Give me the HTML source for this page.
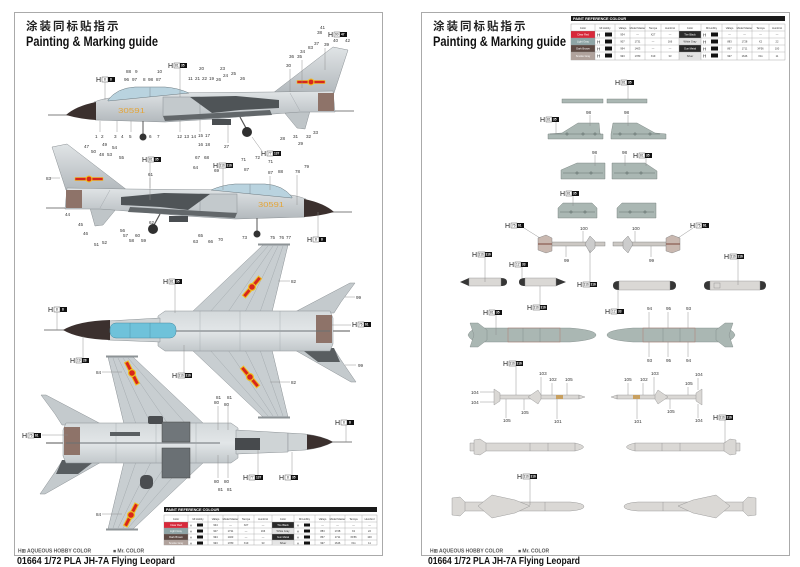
<!DOCTYPE html>
<html><head><meta charset="utf-8"><style>
html,body{margin:0;padding:0;background:#fff;}
svg{display:block}
text{font-family:"Liberation Sans","Noto Sans CJK SC",sans-serif;}
.n{font-size:4.6px;fill:#333}
.h{font-size:7px;fill:#222}
.hb{font-size:3.2px;fill:#fff;font-weight:bold}
.hw{font-size:3.2px;fill:#222}
.ld{stroke:#8a8a8a;stroke-width:0.45;fill:none}
.ac{stroke:#8a9094;stroke-width:0.5}
.py{fill:#aab7b3;stroke:#6e7875;stroke-width:0.4}
.ms{fill:#dad8d5;stroke:#8a8a8a;stroke-width:0.4}
.tt{font-size:2.6px;fill:#333}
.tw{font-size:2.6px;fill:#fff}
.gl{stroke:#999;stroke-width:0.35}
</style></head><body>
<svg width="800" height="567" viewBox="0 0 800 567">
<defs>
<linearGradient id="gs" x1="0" y1="0" x2="0" y2="1"><stop offset="0" stop-color="#e0e4e6"/><stop offset="1" stop-color="#b3b9bd"/></linearGradient>
<linearGradient id="gp" x1="0" y1="0" x2="0" y2="1"><stop offset="0" stop-color="#d4d9db"/><stop offset="0.5" stop-color="#e2e6e8"/><stop offset="1" stop-color="#c2c8cb"/></linearGradient>
<g id="sv">
<line x1="48" y1="115" x2="68" y2="115" stroke="#555" stroke-width="0.8"/>
<line x1="332" y1="111" x2="354" y2="111" stroke="#555" stroke-width="0.8"/>
<polygon points="273,93 333,47 348,50 334,93" fill="url(#gs)" class="ac"/>
<polygon points="283,111 310,111 305,129 297,128" fill="#bfc5c8" class="ac"/>
<path d="M94,102 Q104,98 118,97 L165,93 L272,92 L333,91 L335,112 L300,112 L260,115 L215,119 L165,122 L95,120 Z" fill="url(#gs)" class="ac"/>
<path d="M66,115 Q76,106 96,102 L96,120 Q80,119 66,115 Z" fill="#3b302e"/>
<path d="M108,100 Q117,88 135,87 L165,87 Q178,88 189,93 L108,101 Z" fill="#b9d3df" stroke="#6d7a80" stroke-width="0.5"/>
<line x1="150" y1="87.5" x2="150" y2="97" stroke="#6d7a80" stroke-width="0.4"/>
<rect x="163" y="97" width="37" height="19" fill="#c3c9cc" class="ac"/>
<polygon points="190,97 236,96 279,100 279,108 240,110 212,113" fill="#4f5457"/>
<polygon points="163,116 270,110 272,115 165,121" fill="#62676a"/>
<rect x="318" y="93" width="16" height="18" fill="#8e7369"/>
<rect x="212" y="119" width="19" height="6" fill="#4a4e51"/>
<line x1="143" y1="121" x2="143" y2="134" stroke="#555" stroke-width="1"/>
<circle cx="143" cy="137" r="3.5" fill="#333"/>
<line x1="240" y1="117" x2="246" y2="128" stroke="#555" stroke-width="1.2"/>
<circle cx="247" cy="132" r="5" fill="#2f2f2f"/>
<line x1="290" y1="93" x2="300" y2="111" stroke="#9aa0a4" stroke-width="0.4"/>
<rect x="297" y="80.5" width="28" height="3" fill="#d8261c" stroke="#f0c020" stroke-width="0.6"/>
<circle cx="311" cy="82" r="3.5" fill="#f0c020"/><circle cx="311" cy="82" r="2.4" fill="#d8261c"/>
</g>
<g id="pv">
<line x1="44" y1="330" x2="64" y2="330" stroke="#555" stroke-width="0.8"/>
<line x1="330" y1="331" x2="350" y2="331" stroke="#555" stroke-width="1"/>
<polygon points="192,312 263,245 288,245 272,312" fill="#c8ced1" class="ac"/>
<polygon points="192,350 263,417 288,417 272,350" fill="#c8ced1" class="ac"/>
<rect x="258" y="243.5" width="32" height="2" fill="#8d9396"/>
<rect x="258" y="416.5" width="32" height="2" fill="#8d9396"/>
<g stroke="#9ba2a6" stroke-width="0.4">
<line x1="210" y1="312" x2="268" y2="246"/><line x1="228" y1="312" x2="273" y2="246"/><line x1="245" y1="312" x2="278" y2="246"/><line x1="260" y1="312" x2="283" y2="246"/>
<line x1="210" y1="350" x2="268" y2="416"/><line x1="228" y1="350" x2="273" y2="416"/><line x1="245" y1="350" x2="278" y2="416"/><line x1="260" y1="350" x2="283" y2="416"/>
</g>
<polygon points="293,313 350,283 355,283 341,302 334,313" fill="#c4cacd" class="ac"/>
<polygon points="293,349 334,349 341,360 356,382 351,382" fill="#c4cacd" class="ac"/>
<polygon points="300,348 334,348 340,362 318,362" fill="#585d60"/>
<polygon points="158,316 165,311 330,311 333,318 333,344 330,351 165,351 158,346" fill="url(#gp)" class="ac"/>
<path d="M108,321 L160,318 L160,342 L108,340 Z" fill="#cfd4d6" class="ac"/>
<rect x="316" y="315" width="16" height="28" fill="#8e7369"/>
<line x1="176" y1="331" x2="330" y2="331" stroke="#6a7074" stroke-width="1"/>
<g stroke="#a0a6aa" stroke-width="0.4"><line x1="200" y1="311" x2="200" y2="351"/><line x1="240" y1="311" x2="240" y2="351"/><line x1="280" y1="311" x2="280" y2="351"/></g>
</g>
<g id="lau">
<rect x="545" y="242" width="60" height="4" fill="#ccc8c4" stroke="#777" stroke-width="0.4"/>
<polygon points="538,238 546,235 552,238 552,251 546,253 538,250" fill="#c9b8b0" stroke="#777" stroke-width="0.4"/>
<line x1="538" y1="244" x2="552" y2="244" stroke="#8a5a50" stroke-width="1.2"/>
<polygon points="585,244 590,236 595,241 595,248 590,253" fill="#ccc" stroke="#777" stroke-width="0.4"/>
</g>
<g id="bomb">
<path d="M480,328 L570,328 Q596,330 596,335 Q596,340 570,342 L480,342 Q470,341 468,335 Q470,329 480,328 Z" fill="#aab7b3" stroke="#7c8784" stroke-width="0.4"/>
<polygon points="470,323 478,323 487,330 487,340 478,347 470,347 474,335" fill="#aab7b3" stroke="#7c8784" stroke-width="0.4"/>
<rect x="508" y="328" width="52" height="14" fill="none" stroke="#b07a70" stroke-width="0.5"/>
<line x1="523" y1="328" x2="523" y2="342" stroke="#7c8784" stroke-width="0.4"/><line x1="540" y1="328" x2="540" y2="342" stroke="#7c8784" stroke-width="0.4"/>
</g>
<g id="aam">
<rect x="496" y="395" width="83" height="4" class="ms"/>
<path d="M579,395 L585,397 L579,399 Z" class="ms"/>
<polygon points="494,389 500,393 500,401 494,405" class="ms"/>
<polygon points="528,397 538,390 541,395 541,399 538,404" class="ms"/>
<rect x="556" y="395" width="7" height="4" fill="#c8a060"/>
</g>
<g id="lm">
<path d="M470,443 L575,443 Q592,447 575,451 L470,451 Z" class="ms"/>
<polygon points="474,440 480,439 486,443 486,451 480,455 474,454" class="ms"/>
<g stroke="#888" stroke-width="0.4"><line x1="530" y1="443" x2="530" y2="451"/><line x1="548" y1="443" x2="548" y2="451"/><line x1="575" y1="443" x2="575" y2="451"/></g>
</g>
<g id="bm">
<path d="M455,502 L570,502 Q584,503 584,506.5 Q584,510 570,511 L455,511 Z" class="ms"/>
<polygon points="478,506 492,495 515,500 530,506 515,513 492,518" class="ms"/>
<polygon points="452,498 460,497 465,502 465,511 460,516 452,515" class="ms"/>
<line x1="545" y1="502" x2="545" y2="511" stroke="#888" stroke-width="0.4"/>
</g>
</defs>

<rect width="800" height="567" fill="#fff"/>
<rect x="14.5" y="12.5" width="368" height="543" fill="none" stroke="#aaa"/>
<rect x="421.5" y="12.5" width="368" height="543" fill="none" stroke="#aaa"/>

<!-- Titles -->
<text x="26" y="30" font-size="11.5" font-weight="bold" letter-spacing="2" fill="#222">涂装同标贴指示</text>
<text x="26" y="46" font-size="13.5" font-weight="bold" fill="#111" textLength="132" lengthAdjust="spacingAndGlyphs">Painting &amp; Marking guide</text>
<text x="433" y="30" font-size="11.5" font-weight="bold" letter-spacing="2" fill="#222">涂装同标贴指示</text>
<text x="433" y="46" font-size="13.5" font-weight="bold" fill="#111" textLength="133" lengthAdjust="spacingAndGlyphs">Painting &amp; Marking guide</text>

<!-- Side views -->
<use href="#sv"/>
<text x="118" y="113" font-size="7.5" fill="#e3a53a" textLength="27" lengthAdjust="spacingAndGlyphs">30591</text>
<use href="#sv" transform="translate(400,97) scale(-1,1)"/>
<text x="258" y="207" font-size="7.5" fill="#e3a53a" textLength="26" lengthAdjust="spacingAndGlyphs">30591</text>

<!-- Top view -->
<use href="#pv"/>
<path d="M63,330 Q78,321 110,320 L110,340 Q78,339 63,330 Z" fill="#3b302e"/>
<rect x="110" y="323" width="66" height="15" rx="6" fill="#6fc2da" stroke="#4a8aa0" stroke-width="0.5"/>
<line x1="130" y1="323" x2="130" y2="338" stroke="#4a8aa0" stroke-width="0.4"/><line x1="150" y1="323" x2="150" y2="338" stroke="#4a8aa0" stroke-width="0.4"/>
<g transform="translate(252,287) rotate(-50)"><rect x="-13" y="-2.5" width="26" height="5" fill="#f0c020"/><rect x="-12" y="-1.5" width="24" height="3" fill="#d8261c"/><circle r="4" fill="#f0c020"/><circle r="2.8" fill="#d8261c"/></g>
<g transform="translate(250,377) rotate(50)"><rect x="-13" y="-2.5" width="26" height="5" fill="#f0c020"/><rect x="-12" y="-1.5" width="24" height="3" fill="#d8261c"/><circle r="4" fill="#f0c020"/><circle r="2.8" fill="#d8261c"/></g>

<!-- Bottom view -->
<use href="#pv" transform="translate(396,112) scale(-1,1)"/>
<path d="M333,442 Q322,436 305,434 L288,433 L288,451 L305,450 Q322,448 333,442 Z" fill="#cfd4d6" class="ac"/>
<path d="M333,442 Q322,436 307,434.5 L307,449.5 Q322,448 333,442 Z" fill="#3b302e"/>
<rect x="148" y="416" width="15" height="8" rx="2" fill="#4a4d50"/>
<rect x="162" y="422" width="28" height="20" fill="#70767a" stroke="#444" stroke-width="0.5"/>
<rect x="162" y="448" width="28" height="30" fill="#6a7074" stroke="#444" stroke-width="0.5"/>
<rect x="140" y="475" width="13" height="14" rx="5" fill="#4a4d50"/>
<rect x="110" y="432" width="30" height="4" fill="#5a5f62"/>
<rect x="235" y="438" width="25" height="12" fill="#474a4d"/>
<g transform="translate(132,373) rotate(63)"><rect x="-13" y="-2.5" width="26" height="5" fill="#f0c020"/><rect x="-12" y="-1.5" width="24" height="3" fill="#d8261c"/><circle r="4" fill="#f0c020"/><circle r="2.8" fill="#d8261c"/></g>
<g transform="translate(131,515) rotate(-63)"><rect x="-13" y="-2.5" width="26" height="5" fill="#f0c020"/><rect x="-12" y="-1.5" width="24" height="3" fill="#d8261c"/><circle r="4" fill="#f0c020"/><circle r="2.8" fill="#d8261c"/></g>

<!-- Left page H labels -->
<g>
<text class="h" x="96" y="82">H</text><rect x="102" y="77" width="6" height="5" fill="#fff" stroke="#333" stroke-width="0.4"/><rect x="108" y="77" width="7" height="5" fill="#111"/><text class="hw" x="104" y="80.5">8</text><text class="hb" x="110" y="80.5">8</text>
<line class="ld" x1="105" y1="82" x2="105" y2="100"/>
<text class="h" x="168" y="68">H</text><rect x="174" y="63" width="6" height="5" fill="#fff" stroke="#333" stroke-width="0.4"/><rect x="180" y="63" width="7" height="5" fill="#111"/><text class="hw" x="175" y="66.5">81</text><text class="hb" x="181" y="66.5">35</text>
<line class="ld" x1="180" y1="68" x2="180" y2="97"/>
<text class="h" x="328" y="37">H</text><rect x="334" y="32" width="6" height="5" fill="#fff" stroke="#333" stroke-width="0.4"/><rect x="340" y="32" width="7" height="5" fill="#111"/><text class="hw" x="335" y="35.5">90</text><text class="hb" x="341" y="35.5">47</text>
<text class="h" x="261" y="156">H</text><rect x="267" y="151" width="6" height="5" fill="#fff" stroke="#333" stroke-width="0.4"/><rect x="273" y="151" width="8" height="5" fill="#111"/><text class="hw" x="268" y="154.5">77</text><text class="hb" x="274" y="154.5">137</text>
<line class="ld" x1="252" y1="137" x2="262" y2="151"/>
<text class="h" x="142" y="162">H</text><rect x="148" y="157" width="6" height="5" fill="#fff" stroke="#333" stroke-width="0.4"/><rect x="154" y="157" width="7" height="5" fill="#111"/><text class="hw" x="149" y="160.5">81</text><text class="hb" x="155" y="160.5">35</text>
<line class="ld" x1="150" y1="162" x2="150" y2="200"/>
<text class="h" x="213" y="168">H</text><rect x="219" y="163" width="7" height="5" fill="#fff" stroke="#333" stroke-width="0.4"/><rect x="226" y="163" width="7" height="5" fill="#111"/><text class="hw" x="219.5" y="166.5">316</text><text class="hb" x="226.5" y="166.5">316</text>
<line class="ld" x1="223" y1="168" x2="223" y2="190"/>
<text class="h" x="307" y="242">H</text><rect x="313" y="237" width="6" height="5" fill="#fff" stroke="#333" stroke-width="0.4"/><rect x="319" y="237" width="7" height="5" fill="#111"/><text class="hw" x="315" y="240.5">8</text><text class="hb" x="321" y="240.5">8</text>
<line class="ld" x1="318" y1="237" x2="318" y2="212"/>
<text class="h" x="163" y="284">H</text><rect x="169" y="279" width="6" height="5" fill="#fff" stroke="#333" stroke-width="0.4"/><rect x="175" y="279" width="7" height="5" fill="#111"/><text class="hw" x="170" y="282.5">81</text><text class="hb" x="176" y="282.5">35</text>
<line class="ld" x1="175" y1="284" x2="175" y2="313"/>
<text class="h" x="48" y="312">H</text><rect x="54" y="307" width="6" height="5" fill="#fff" stroke="#333" stroke-width="0.4"/><rect x="60" y="307" width="7" height="5" fill="#111"/><text class="hw" x="56" y="310.5">8</text><text class="hb" x="62" y="310.5">8</text>
<line class="ld" x1="57" y1="312" x2="57" y2="330"/>
<text class="h" x="70" y="363">H</text><rect x="76" y="358" width="6" height="5" fill="#fff" stroke="#333" stroke-width="0.4"/><rect x="82" y="358" width="7" height="5" fill="#111"/><text class="hw" x="77" y="361.5">19</text><text class="hb" x="83" y="361.5">28</text>
<line class="ld" x1="83" y1="358" x2="83" y2="336"/>
<text class="h" x="352" y="327">H</text><rect x="358" y="322" width="6" height="5" fill="#fff" stroke="#333" stroke-width="0.4"/><rect x="364" y="322" width="7" height="5" fill="#111"/><text class="hw" x="359" y="325.5">76</text><text class="hb" x="365" y="325.5">61</text>
<line class="ld" x1="332" y1="325" x2="351" y2="325"/>
<text class="h" x="172" y="378">H</text><rect x="178" y="373" width="7" height="5" fill="#fff" stroke="#333" stroke-width="0.4"/><rect x="185" y="373" width="7" height="5" fill="#111"/><text class="hw" x="178.5" y="376.5">316</text><text class="hb" x="185.5" y="376.5">316</text>
<line class="ld" x1="184" y1="373" x2="184" y2="345"/>
<text class="h" x="22" y="438">H</text><rect x="28" y="433" width="6" height="5" fill="#fff" stroke="#333" stroke-width="0.4"/><rect x="34" y="433" width="7" height="5" fill="#111"/><text class="hw" x="29" y="436.5">76</text><text class="hb" x="35" y="436.5">61</text>
<line class="ld" x1="42" y1="435" x2="68" y2="435"/>
<text class="h" x="335" y="425">H</text><rect x="341" y="420" width="6" height="5" fill="#fff" stroke="#333" stroke-width="0.4"/><rect x="347" y="420" width="7" height="5" fill="#111"/><text class="hw" x="343" y="423.5">8</text><text class="hb" x="349" y="423.5">8</text>
<line class="ld" x1="346" y1="425" x2="346" y2="442"/>
<text class="h" x="243" y="480">H</text><rect x="249" y="475" width="6" height="5" fill="#fff" stroke="#333" stroke-width="0.4"/><rect x="255" y="475" width="8" height="5" fill="#111"/><text class="hw" x="250" y="478.5">77</text><text class="hb" x="256" y="478.5">137</text>
<line class="ld" x1="258" y1="475" x2="258" y2="450"/>
<text class="h" x="279" y="480">H</text><rect x="285" y="475" width="6" height="5" fill="#fff" stroke="#333" stroke-width="0.4"/><rect x="291" y="475" width="7" height="5" fill="#111"/><text class="hw" x="287" y="478.5">8</text><text class="hb" x="292" y="478.5">35</text>
<line class="ld" x1="292" y1="475" x2="292" y2="452"/>
</g>

<!-- Left page numbers -->
<g class="n">
<text x="320" y="29">41</text><text x="317" y="34">38</text><text x="333" y="42">40</text><text x="345" y="42">42</text><text x="314" y="45">37</text><text x="324" y="46">39</text><text x="308" y="49">83</text><text x="289" y="58">36</text><text x="297" y="58">35</text><text x="300" y="53">34</text><text x="286" y="67">30</text>
<text x="126" y="73">88</text><text x="135" y="73">9</text><text x="157" y="73">10</text><text x="124" y="81">96</text><text x="132" y="81">97</text><text x="143" y="81">8</text><text x="148" y="81">98</text><text x="156" y="81">87</text>
<text x="199" y="70">20</text><text x="220" y="70">23</text><text x="188" y="80">11</text><text x="195" y="80">21</text><text x="202" y="80">22</text><text x="209" y="80">19</text><text x="216" y="81">26</text><text x="223" y="77">24</text><text x="231" y="75">25</text><text x="240" y="80">26</text>
<text x="95" y="138">1</text><text x="101" y="138">2</text><text x="114" y="138">3</text><text x="121" y="138">4</text><text x="129" y="138">5</text><text x="149" y="138">6</text><text x="157" y="138">7</text>
<text x="177" y="138">12</text><text x="184" y="138">13</text><text x="191" y="138">14</text><text x="198" y="137">15</text><text x="205" y="137">17</text><text x="198" y="146">16</text><text x="205" y="146">18</text><text x="224" y="148">27</text>
<text x="280" y="140">28</text><text x="293" y="138">31</text><text x="306" y="138">32</text><text x="313" y="134">33</text><text x="298" y="145">29</text>
<text x="84" y="148">47</text><text x="102" y="146">49</text><text x="112" y="149">54</text><text x="91" y="153">50</text><text x="99" y="156">48</text><text x="107" y="156">53</text><text x="119" y="159">55</text><text x="46" y="180">83</text><text x="148" y="176">61</text>
<text x="195" y="159">67</text><text x="204" y="159">68</text><text x="193" y="169">64</text><text x="214" y="172">69</text><text x="241" y="161">71</text><text x="255" y="159">72</text><text x="268" y="163">71</text><text x="244" y="171">87</text><text x="268" y="174">87</text><text x="278" y="173">88</text><text x="295" y="173">78</text><text x="304" y="168">79</text>
<text x="65" y="216">44</text><text x="78" y="226">45</text><text x="83" y="235">46</text><text x="94" y="246">51</text><text x="102" y="244">52</text><text x="120" y="232">56</text><text x="123" y="237">57</text><text x="129" y="242">58</text><text x="135" y="237">60</text><text x="141" y="242">59</text><text x="149" y="224">62</text>
<text x="193" y="243">63</text><text x="198" y="237">65</text><text x="208" y="243">66</text><text x="218" y="241">70</text><text x="242" y="239">73</text><text x="270" y="239">75</text><text x="279" y="239">76</text><text x="286" y="239">77</text>
<text x="291" y="283">82</text><text x="356" y="299">99</text><text x="358" y="367">99</text><text x="291" y="384">82</text><text x="96" y="374">84</text><text x="96" y="516">84</text>
<text x="216" y="399">81</text><text x="227" y="399">81</text><text x="214" y="404">80</text><text x="224" y="406">80</text><text x="214" y="483">80</text><text x="224" y="483">80</text><text x="218" y="491">81</text><text x="227" y="491">81</text>
</g>
<g class="ld">
<line x1="100" y1="132" x2="100" y2="121"/><line x1="117" y1="132" x2="117" y2="121"/><line x1="131" y1="132" x2="131" y2="121"/><line x1="180" y1="132" x2="180" y2="119"/><line x1="200" y1="132" x2="200" y2="119"/><line x1="228" y1="143" x2="228" y2="125"/>
<line x1="302" y1="60" x2="302" y2="88"/><line x1="290" y1="69" x2="290" y2="92"/><line x1="325" y1="48" x2="325" y2="70"/>
<line x1="50" y1="178" x2="60" y2="178"/><line x1="150" y1="178" x2="150" y2="188"/><line x1="270" y1="176" x2="270" y2="190"/><line x1="297" y1="175" x2="297" y2="205"/>
<line x1="278" y1="281" x2="290" y2="281"/><line x1="345" y1="297" x2="355" y2="297"/><line x1="345" y1="365" x2="356" y2="365"/><line x1="270" y1="382" x2="290" y2="382"/><line x1="102" y1="372" x2="122" y2="372"/><line x1="102" y1="514" x2="122" y2="514"/>
<line x1="218" y1="406" x2="218" y2="430"/><line x1="228" y1="406" x2="228" y2="430"/><line x1="218" y1="455" x2="218" y2="478"/><line x1="228" y1="455" x2="228" y2="478"/>
</g>

<!-- Left paint table -->
<rect x="164" y="507" width="213" height="5" fill="#1a1a1a"/>
<text x="166" y="511" font-size="3.8" font-weight="bold" fill="#fff">PAINT  REFERENCE COLOUR</text>
<rect x="164" y="515" width="213" height="30" fill="#fff" stroke="#999" stroke-width="0.4"/>
<rect x="164" y="522" width="24" height="6" fill="#d8283a"/><rect x="164" y="528" width="24" height="6" fill="#8fa5a6"/><rect x="164" y="534" width="24" height="6" fill="#5e4a44"/><rect x="164" y="540" width="24" height="5" fill="#b0a29c"/>
<rect x="272" y="522" width="22" height="6" fill="#2a2a2a"/><rect x="272" y="528" width="22" height="6" fill="#e4e4e4"/><rect x="272" y="534" width="22" height="6" fill="#2a2a2a"/><rect x="272" y="540" width="22" height="5" fill="#e4e4e4"/>
<g class="gl"><line x1="164" y1="522" x2="377" y2="522"/><line x1="164" y1="528" x2="377" y2="528"/><line x1="164" y1="534" x2="377" y2="534"/><line x1="164" y1="540" x2="377" y2="540"/>
<line x1="188" y1="515" x2="188" y2="545"/><line x1="208" y1="515" x2="208" y2="545"/><line x1="223" y1="515" x2="223" y2="545"/><line x1="238" y1="515" x2="238" y2="545"/><line x1="254" y1="515" x2="254" y2="545"/><line x1="272" y1="515" x2="272" y2="545"/><line x1="294" y1="515" x2="294" y2="545"/><line x1="315" y1="515" x2="315" y2="545"/><line x1="330" y1="515" x2="330" y2="545"/><line x1="345" y1="515" x2="345" y2="545"/><line x1="362" y1="515" x2="362" y2="545"/></g>
<g class="tt" text-anchor="middle">
<text x="176" y="520">Color</text><text x="198" y="520">Mr.Hobby</text><text x="215.5" y="520">Vallejo</text><text x="230.5" y="520">Model Master</text><text x="246" y="520">Tamiya</text><text x="263" y="520">Humbrol</text><text x="283" y="520">Color</text><text x="304.5" y="520">Mr.Hobby</text><text x="322.5" y="520">Vallejo</text><text x="337.5" y="520">Model Master</text><text x="353.5" y="520">Tamiya</text><text x="369.5" y="520">Humbrol</text>
<text x="215.5" y="526">934</text><text x="230.5" y="526">—</text><text x="246" y="526">X27</text><text x="263" y="526">—</text><text x="322.5" y="526">—</text><text x="337.5" y="526">—</text><text x="353.5" y="526">—</text><text x="369.5" y="526">—</text>
<text x="215.5" y="532">907</text><text x="230.5" y="532">1731</text><text x="246" y="532">—</text><text x="263" y="532">166</text><text x="322.5" y="532">883</text><text x="337.5" y="532">1728</text><text x="353.5" y="532">X2</text><text x="369.5" y="532">22</text>
<text x="215.5" y="538">994</text><text x="230.5" y="538">1403</text><text x="246" y="538">—</text><text x="263" y="538">—</text><text x="322.5" y="538">867</text><text x="337.5" y="538">1711</text><text x="353.5" y="538">XF56</text><text x="369.5" y="538">100</text>
<text x="215.5" y="544">993</text><text x="230.5" y="544">1780</text><text x="246" y="544">X19</text><text x="263" y="544">33</text><text x="322.5" y="544">997</text><text x="337.5" y="544">1646</text><text x="353.5" y="544">X11</text><text x="369.5" y="544">11</text>
</g>
<g class="tw" text-anchor="middle"><text x="176" y="526">Clear Red</text><text x="176" y="532">Light Gray</text><text x="176" y="538">Dark Brown</text><text x="176" y="544">Smoke Gray</text><text x="283" y="526">Tire Black</text><text x="283" y="538">Gun Metal</text></g>
<g class="tt" text-anchor="middle"><text x="283" y="532">White Gray</text><text x="283" y="544">Silver</text></g>
<g fill="#111"><rect x="197" y="523.5" width="6" height="3"/><rect x="197" y="529.5" width="6" height="3"/><rect x="197" y="535.5" width="6" height="3"/><rect x="197" y="541.5" width="6" height="3"/><rect x="304" y="523.5" width="6" height="3"/><rect x="304" y="529.5" width="6" height="3"/><rect x="304" y="535.5" width="6" height="3"/><rect x="304" y="541.5" width="6" height="3"/></g>
<g class="tt"><text x="190" y="526.5">H</text><text x="190" y="532.5">H</text><text x="190" y="538.5">H</text><text x="190" y="544.5">H</text><text x="297" y="526.5">H</text><text x="297" y="532.5">H</text><text x="297" y="538.5">H</text><text x="297" y="544.5">H</text></g>

<!-- Left footer -->
<text x="18" y="552.5" font-size="5" font-weight="bold" fill="#555">H⊞ AQUEOUS HOBBY COLOR</text>
<text x="113" y="552.5" font-size="5" font-weight="bold" fill="#555">■ Mr. COLOR</text>
<text x="17" y="564" font-size="10.5" font-weight="bold" fill="#111" textLength="158" lengthAdjust="spacingAndGlyphs">01664  1/72  PLA JH-7A Flying Leopard</text>

<!-- Right paint table -->
<rect x="571" y="16" width="214" height="5" fill="#1a1a1a"/>
<text x="573" y="20" font-size="3.8" font-weight="bold" fill="#fff">PAINT  REFERENCE COLOUR</text>
<rect x="571" y="24" width="214" height="36" fill="#fff" stroke="#999" stroke-width="0.4"/>
<rect x="571" y="31" width="24" height="7" fill="#d8283a"/><rect x="571" y="38" width="24" height="7" fill="#8fa5a6"/><rect x="571" y="45" width="24" height="7" fill="#5e4a44"/><rect x="571" y="52" width="24" height="8" fill="#b0a29c"/>
<rect x="679" y="31" width="22" height="7" fill="#2a2a2a"/><rect x="679" y="38" width="22" height="7" fill="#e4e4e4"/><rect x="679" y="45" width="22" height="7" fill="#2a2a2a"/><rect x="679" y="52" width="22" height="8" fill="#e4e4e4"/>
<g class="gl"><line x1="571" y1="31" x2="785" y2="31"/><line x1="571" y1="38" x2="785" y2="38"/><line x1="571" y1="45" x2="785" y2="45"/><line x1="571" y1="52" x2="785" y2="52"/>
<line x1="595" y1="24" x2="595" y2="60"/><line x1="615" y1="24" x2="615" y2="60"/><line x1="630" y1="24" x2="630" y2="60"/><line x1="645" y1="24" x2="645" y2="60"/><line x1="661" y1="24" x2="661" y2="60"/><line x1="679" y1="24" x2="679" y2="60"/><line x1="701" y1="24" x2="701" y2="60"/><line x1="722" y1="24" x2="722" y2="60"/><line x1="737" y1="24" x2="737" y2="60"/><line x1="752" y1="24" x2="752" y2="60"/><line x1="769" y1="24" x2="769" y2="60"/></g>
<g class="tt" text-anchor="middle">
<text x="583" y="29">Color</text><text x="605" y="29">Mr.Hobby</text><text x="622.5" y="29">Vallejo</text><text x="637.5" y="29">Model Master</text><text x="653" y="29">Tamiya</text><text x="670" y="29">Humbrol</text><text x="690" y="29">Color</text><text x="711.5" y="29">Mr.Hobby</text><text x="729.5" y="29">Vallejo</text><text x="744.5" y="29">Model Master</text><text x="760.5" y="29">Tamiya</text><text x="777" y="29">Humbrol</text>
<text x="622.5" y="35.5">934</text><text x="637.5" y="35.5">—</text><text x="653" y="35.5">X27</text><text x="670" y="35.5">—</text><text x="729.5" y="35.5">—</text><text x="744.5" y="35.5">—</text><text x="760.5" y="35.5">—</text><text x="777" y="35.5">—</text>
<text x="622.5" y="42.5">907</text><text x="637.5" y="42.5">1731</text><text x="653" y="42.5">—</text><text x="670" y="42.5">166</text><text x="729.5" y="42.5">883</text><text x="744.5" y="42.5">1728</text><text x="760.5" y="42.5">X2</text><text x="777" y="42.5">22</text>
<text x="622.5" y="49.5">994</text><text x="637.5" y="49.5">1403</text><text x="653" y="49.5">—</text><text x="670" y="49.5">—</text><text x="729.5" y="49.5">867</text><text x="744.5" y="49.5">1711</text><text x="760.5" y="49.5">XF56</text><text x="777" y="49.5">100</text>
<text x="622.5" y="57">993</text><text x="637.5" y="57">1780</text><text x="653" y="57">X19</text><text x="670" y="57">33</text><text x="729.5" y="57">997</text><text x="744.5" y="57">1646</text><text x="760.5" y="57">X11</text><text x="777" y="57">11</text>
</g>
<g class="tw" text-anchor="middle"><text x="583" y="35.5">Clear Red</text><text x="583" y="42.5">Light Gray</text><text x="583" y="49.5">Dark Brown</text><text x="583" y="57">Smoke Gray</text><text x="690" y="35.5">Tire Black</text><text x="690" y="49.5">Gun Metal</text></g>
<g class="tt" text-anchor="middle"><text x="690" y="42.5">White Gray</text><text x="690" y="57">Silver</text></g>
<g fill="#111"><rect x="605" y="32.5" width="7" height="4"/><rect x="605" y="39.5" width="7" height="4"/><rect x="605" y="46.5" width="7" height="4"/><rect x="605" y="53.5" width="7" height="4"/><rect x="711" y="32.5" width="7" height="4"/><rect x="711" y="39.5" width="7" height="4"/><rect x="711" y="46.5" width="7" height="4"/><rect x="711" y="53.5" width="7" height="4"/></g>
<g font-size="4.5" fill="#222"><text x="597" y="36.5">H</text><text x="597" y="43.5">H</text><text x="597" y="50.5">H</text><text x="597" y="57.5">H</text><text x="703" y="36.5">H</text><text x="703" y="43.5">H</text><text x="703" y="50.5">H</text><text x="703" y="57.5">H</text></g>

<!-- Pylons -->
<rect x="562" y="99" width="41" height="4" class="py"/><rect x="607" y="99" width="40" height="4" class="py"/>
<polygon points="548,139 548,134 562,133 578,123 599,123 600,134 603,134 603,139" class="py"/>
<polygon points="611,139 611,134 613,123 637,123 655,133 666,134 666,139" class="py"/>
<polygon points="561,179 561,170 577,163 605,163 605,179" class="py"/>
<polygon points="612,179 612,163 645,163 657,171 657,179" class="py"/>
<polygon points="558,218 558,208 563,203 592,203 597,208 597,218" class="py"/>
<polygon points="617,218 617,208 622,203 656,203 656,218" class="py"/>
<g stroke="#55605d" stroke-width="0.4" fill="#8a9895">
<line x1="550" y1="134" x2="601" y2="134"/><circle cx="567" cy="134" r="1.2"/><circle cx="583" cy="134" r="1.2"/><circle cx="595" cy="134" r="1.2"/>
<line x1="613" y1="134" x2="660" y2="134"/><circle cx="620" cy="134" r="1.2"/><circle cx="635" cy="134" r="1.2"/><circle cx="650" cy="134" r="1.2"/>
<line x1="563" y1="173" x2="603" y2="173"/><circle cx="577" cy="173" r="1.2"/><circle cx="591" cy="173" r="1.2"/>
<line x1="614" y1="173" x2="655" y2="173"/><circle cx="627" cy="173" r="1.2"/><circle cx="641" cy="173" r="1.2"/>
<line x1="560" y1="212" x2="595" y2="212"/><circle cx="571" cy="212" r="1.2"/><circle cx="585" cy="212" r="1.2"/>
<line x1="619" y1="212" x2="654" y2="212"/><circle cx="630" cy="212" r="1.2"/><circle cx="645" cy="212" r="1.2"/>
</g>

<!-- Launchers -->
<use href="#lau"/>
<use href="#lau" transform="translate(1218,0) scale(-1,1)"/>

<!-- Drop tanks -->
<g fill="#363636">
<path d="M460,282 L469,278 L469,286 Z"/><path d="M501,278 Q507,278 507,282 Q507,286 501,286 Z"/>
<path d="M525,278 Q519,278 519,282 Q519,286 525,286 Z"/><path d="M556,278 L566,282 L556,286 Z"/>
<path d="M619,281 Q613,281 613,285.5 Q613,290 619,290 Z"/><path d="M670,281 Q676,281 676,285.5 Q676,290 670,290 Z"/>
<path d="M710,281 Q704,281 704,285.5 Q704,290 710,290 Z"/><path d="M760,281 Q766,281 766,285.5 Q766,290 760,290 Z"/>
</g>
<rect x="469" y="278" width="32" height="8" class="ms"/><rect x="525" y="278" width="31" height="8" class="ms"/>
<rect x="619" y="281" width="51" height="9" class="ms"/><rect x="710" y="281" width="50" height="9" class="ms"/>
<rect x="714" y="283" width="6" height="5" fill="none" stroke="#888" stroke-width="0.4"/>

<!-- Bombs -->
<use href="#bomb"/>
<use href="#bomb" transform="translate(1203,0) scale(-1,1)"/>

<!-- Missiles -->
<use href="#aam"/>
<use href="#aam" transform="translate(1196,0) scale(-1,1)"/>
<use href="#lm"/>
<use href="#lm" transform="translate(1210,0) scale(-1,1)"/>
<use href="#bm"/>
<use href="#bm" transform="translate(1208,0) scale(-1,1)"/>

<!-- Right page H labels -->
<g>
<text class="h" x="615" y="85">H</text><rect x="621" y="80" width="6" height="5" fill="#fff" stroke="#333" stroke-width="0.4"/><rect x="627" y="80" width="7" height="5" fill="#111"/><text class="hw" x="622" y="83.5">81</text><text class="hb" x="628" y="83.5">35</text>
<line class="ld" x1="628" y1="85" x2="628" y2="99"/>
<text class="h" x="540" y="122">H</text><rect x="546" y="117" width="6" height="5" fill="#fff" stroke="#333" stroke-width="0.4"/><rect x="552" y="117" width="7" height="5" fill="#111"/><text class="hw" x="547" y="120.5">81</text><text class="hb" x="553" y="120.5">35</text>
<line class="ld" x1="556" y1="122" x2="556" y2="134"/>
<text class="h" x="633" y="158">H</text><rect x="639" y="153" width="6" height="5" fill="#fff" stroke="#333" stroke-width="0.4"/><rect x="645" y="153" width="7" height="5" fill="#111"/><text class="hw" x="640" y="156.5">81</text><text class="hb" x="646" y="156.5">35</text>
<line class="ld" x1="646" y1="158" x2="646" y2="166"/>
<text class="h" x="560" y="196">H</text><rect x="566" y="191" width="6" height="5" fill="#fff" stroke="#333" stroke-width="0.4"/><rect x="572" y="191" width="7" height="5" fill="#111"/><text class="hw" x="567" y="194.5">81</text><text class="hb" x="573" y="194.5">35</text>
<line class="ld" x1="573" y1="196" x2="573" y2="206"/>
<text class="h" x="505" y="228">H</text><rect x="511" y="223" width="6" height="5" fill="#fff" stroke="#333" stroke-width="0.4"/><rect x="517" y="223" width="7" height="5" fill="#111"/><text class="hw" x="512" y="226.5">76</text><text class="hb" x="518" y="226.5">61</text>
<line class="ld" x1="524" y1="228" x2="540" y2="238"/>
<text class="h" x="690" y="228">H</text><rect x="696" y="223" width="6" height="5" fill="#fff" stroke="#333" stroke-width="0.4"/><rect x="702" y="223" width="7" height="5" fill="#111"/><text class="hw" x="697" y="226.5">76</text><text class="hb" x="703" y="226.5">61</text>
<line class="ld" x1="693" y1="228" x2="678" y2="238"/>
<text class="h" x="472" y="257">H</text><rect x="478" y="252" width="7" height="5" fill="#fff" stroke="#333" stroke-width="0.4"/><rect x="485" y="252" width="7" height="5" fill="#111"/><text class="hw" x="478.5" y="255.5">316</text><text class="hb" x="485.5" y="255.5">316</text>
<line class="ld" x1="485" y1="257" x2="485" y2="282"/>
<text class="h" x="509" y="267">H</text><rect x="515" y="262" width="6" height="5" fill="#fff" stroke="#333" stroke-width="0.4"/><rect x="521" y="262" width="7" height="5" fill="#111"/><text class="hw" x="516" y="265.5">12</text><text class="hb" x="522" y="265.5">33</text>
<line class="ld" x1="522" y1="267" x2="522" y2="278"/>
<text class="h" x="577" y="287">H</text><rect x="583" y="282" width="7" height="5" fill="#fff" stroke="#333" stroke-width="0.4"/><rect x="590" y="282" width="7" height="5" fill="#111"/><text class="hw" x="583.5" y="285.5">316</text><text class="hb" x="590.5" y="285.5">316</text>
<line class="ld" x1="590" y1="282" x2="590" y2="250"/>
<text class="h" x="724" y="259">H</text><rect x="730" y="254" width="7" height="5" fill="#fff" stroke="#333" stroke-width="0.4"/><rect x="737" y="254" width="7" height="5" fill="#111"/><text class="hw" x="730.5" y="257.5">316</text><text class="hb" x="737.5" y="257.5">316</text>
<line class="ld" x1="738" y1="259" x2="738" y2="285"/>
<text class="h" x="483" y="315">H</text><rect x="489" y="310" width="6" height="5" fill="#fff" stroke="#333" stroke-width="0.4"/><rect x="495" y="310" width="7" height="5" fill="#111"/><text class="hw" x="490" y="313.5">81</text><text class="hb" x="496" y="313.5">35</text>
<line class="ld" x1="496" y1="315" x2="496" y2="335"/>
<text class="h" x="527" y="310">H</text><rect x="533" y="305" width="7" height="5" fill="#fff" stroke="#333" stroke-width="0.4"/><rect x="540" y="305" width="7" height="5" fill="#111"/><text class="hw" x="533.5" y="308.5">316</text><text class="hb" x="540.5" y="308.5">316</text>
<line class="ld" x1="540" y1="305" x2="540" y2="286"/>
<text class="h" x="605" y="314">H</text><rect x="611" y="309" width="6" height="5" fill="#fff" stroke="#333" stroke-width="0.4"/><rect x="617" y="309" width="7" height="5" fill="#111"/><text class="hw" x="612" y="312.5">12</text><text class="hb" x="618" y="312.5">33</text>
<line class="ld" x1="618" y1="309" x2="618" y2="290"/>
<text class="h" x="503" y="366">H</text><rect x="509" y="361" width="7" height="5" fill="#fff" stroke="#333" stroke-width="0.4"/><rect x="516" y="361" width="7" height="5" fill="#111"/><text class="hw" x="509.5" y="364.5">316</text><text class="hb" x="516.5" y="364.5">316</text>
<line class="ld" x1="516" y1="366" x2="516" y2="395"/>
<text class="h" x="713" y="420">H</text><rect x="719" y="415" width="7" height="5" fill="#fff" stroke="#333" stroke-width="0.4"/><rect x="726" y="415" width="7" height="5" fill="#111"/><text class="hw" x="719.5" y="418.5">316</text><text class="hb" x="726.5" y="418.5">316</text>
<line class="ld" x1="725" y1="420" x2="725" y2="443"/>
<text class="h" x="517" y="479">H</text><rect x="523" y="474" width="7" height="5" fill="#fff" stroke="#333" stroke-width="0.4"/><rect x="530" y="474" width="7" height="5" fill="#111"/><text class="hw" x="523.5" y="477.5">316</text><text class="hb" x="530.5" y="477.5">316</text>
<line class="ld" x1="530" y1="479" x2="530" y2="505"/>
</g>

<!-- Right page numbers -->
<g class="n">
<text x="586" y="114">98</text><text x="624" y="114">98</text><text x="592" y="154">98</text><text x="622" y="154">98</text>
<text x="580" y="230">100</text><text x="632" y="230">100</text><text x="564" y="262">99</text><text x="649" y="262">99</text>
<text x="647" y="310">94</text><text x="666" y="310">95</text><text x="686" y="310">93</text><text x="647" y="362">93</text><text x="666" y="362">95</text><text x="686" y="362">94</text>
<text x="539" y="375">103</text><text x="549" y="381">102</text><text x="565" y="381">105</text><text x="471" y="394">104</text><text x="471" y="404">104</text><text x="503" y="422">105</text><text x="521" y="414">105</text><text x="554" y="423">101</text>
<text x="624" y="381">105</text><text x="640" y="381">102</text><text x="651" y="375">103</text><text x="695" y="376">104</text><text x="685" y="385">105</text><text x="667" y="413">105</text><text x="634" y="423">101</text><text x="695" y="422">104</text>
</g>
<g class="ld">
<line x1="590" y1="115" x2="590" y2="126"/><line x1="628" y1="115" x2="628" y2="126"/><line x1="595" y1="155" x2="595" y2="166"/><line x1="625" y1="155" x2="625" y2="166"/>
<line x1="583" y1="231" x2="583" y2="242"/><line x1="635" y1="231" x2="635" y2="242"/><line x1="566" y1="246" x2="566" y2="257"/><line x1="651" y1="246" x2="651" y2="257"/>
<line x1="649" y1="312" x2="649" y2="328"/><line x1="668" y1="312" x2="668" y2="328"/><line x1="688" y1="312" x2="688" y2="328"/><line x1="649" y1="342" x2="649" y2="357"/><line x1="668" y1="342" x2="668" y2="357"/><line x1="688" y1="342" x2="688" y2="357"/>
<line x1="541" y1="377" x2="541" y2="395"/><line x1="552" y1="383" x2="552" y2="395"/><line x1="567" y1="383" x2="567" y2="395"/><line x1="480" y1="392" x2="494" y2="392"/><line x1="480" y1="402" x2="494" y2="402"/><line x1="506" y1="399" x2="506" y2="418"/><line x1="524" y1="399" x2="524" y2="410"/><line x1="557" y1="399" x2="557" y2="419"/>
<line x1="628" y1="383" x2="628" y2="395"/><line x1="643" y1="383" x2="643" y2="395"/><line x1="654" y1="377" x2="654" y2="395"/><line x1="698" y1="378" x2="698" y2="390"/><line x1="688" y1="387" x2="688" y2="395"/><line x1="670" y1="399" x2="670" y2="409"/><line x1="637" y1="399" x2="637" y2="419"/><line x1="698" y1="404" x2="698" y2="418"/>
</g>

<!-- Right footer -->
<text x="430" y="552.5" font-size="5" font-weight="bold" fill="#555">H⊞ AQUEOUS HOBBY COLOR</text>
<text x="518" y="552.5" font-size="5" font-weight="bold" fill="#555">■ Mr. COLOR</text>
<text x="428" y="564" font-size="10.5" font-weight="bold" fill="#111" textLength="152" lengthAdjust="spacingAndGlyphs">01664 1/72  PLA JH-7A Flying Leopard</text>
</svg>
</body></html>
